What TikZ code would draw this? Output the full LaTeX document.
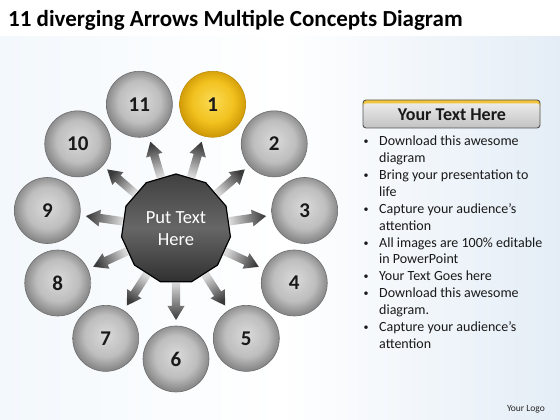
\documentclass[tikz,border=0pt]{standalone}
\usepackage{fontspec}
\setmainfont{Carlito}
\usetikzlibrary{shapes.geometric,calc}
\definecolor{bgL}{HTML}{F3F8FC}
\definecolor{bgR}{HTML}{E4EDF6}
\definecolor{arrD}{HTML}{3A3A3A}
\definecolor{arrL}{HTML}{D8D8D8}
\definecolor{gbA}{HTML}{DADADA}
\definecolor{gbB}{HTML}{BEBEBE}
\definecolor{gbC}{HTML}{8A8A8A}
\definecolor{ybA}{HTML}{FBDB55}
\definecolor{ybB}{HTML}{F1C11E}
\definecolor{ybC}{HTML}{D29C08}
\definecolor{hubT}{HTML}{404040}
\definecolor{hubM}{HTML}{666666}
\definecolor{hubB}{HTML}{303030}
\definecolor{boxT}{HTML}{EAEAEA}
\definecolor{boxB}{HTML}{C2C2C2}
\definecolor{boxY}{HTML}{F2C43A}
\definecolor{boxE}{HTML}{555555}
\pgfdeclareradialshading{grayball}{\pgfpoint{0bp}{3bp}}{color(0bp)=(gbA); color(16bp)=(gbB); color(25bp)=(gbC); color(50bp)=(gbC)}
\pgfdeclareradialshading{yellowball}{\pgfpoint{0bp}{3bp}}{color(0bp)=(ybA); color(16bp)=(ybB); color(25bp)=(ybC); color(50bp)=(ybC)}
\tikzset{
  ballnode/.style={circle, minimum size=66pt, inner sep=0pt, outer sep=0pt,
    font=\fontsize{21}{24}\selectfont\bfseries, text=black!90},
  grayballnode/.style={ballnode, shading=grayball, draw=gray!85!black, line width=0.6pt},
  yellowballnode/.style={ballnode, shading=yellowball, draw=ybC!90!black, line width=0.6pt},
  hubnode/.style={regular polygon, regular polygon sides=11, minimum size=110pt,
    inner sep=0pt, outer sep=0pt, draw=black, line width=1.2pt,
    top color=hubT, bottom color=hubB, middle color=hubM, text=white, align=center,
    font=\fontsize{18.5}{22}\selectfont},
  listline/.style={anchor=base west, inner sep=0pt, font=\fontsize{14}{17}\selectfont, text=black!90},
  bulletmark/.style={anchor=base west, inner sep=0pt, font=\fontsize{10}{12}\selectfont, text=black!90},
}
\begin{document}
\begin{tikzpicture}[x=1pt,y=1pt]
\useasboundingbox (0,0) rectangle (560,420);
\fill[white] (0,0) rectangle (560,420);
\shade[left color=bgL, right color=bgR, middle color=white] (0,0) rectangle (560,383);

\node[anchor=base west, inner sep=0pt, font=\fontsize{23}{26}\selectfont\bfseries] (title) at (8,393) {11 diverging Arrows Multiple Concepts Diagram};

\coordinate (C) at (176,191);

% arrows
\foreach \k in {1,...,11} {
  \pgfmathsetmacro\a{73.64-(\k-1)*32.7273}
  \pgfmathsetmacro\sa{\a-90}
  \shade[top color=arrD, bottom color=arrL, shading angle=\sa]
    ($(C)+(\a:54)+(\a+90:4.2)$) -- ($(C)+(\a:77)+(\a+90:4.2)$) --
    ($(C)+(\a:77)+(\a+90:8.5)$) -- ($(C)+(\a:91)$) --
    ($(C)+(\a:77)+(\a-90:8.5)$) -- ($(C)+(\a:77)+(\a-90:4.2)$) --
    ($(C)+(\a:54)+(\a-90:4.2)$) -- cycle;
}

% hub
\node[hubnode] (hub) at (C) {Put Text\\Here};

% circles
\node[yellowballnode] (c1) at ($(C)+(73.64:130)$) {1};
\foreach \k in {2,...,11} {
  \pgfmathsetmacro\a{73.64-(\k-1)*32.7273}
  \node[grayballnode] (c\k) at ($(C)+(\a:130)$) {\k};
}

% header box
\fill[boxY, rounded corners=3pt] (363,292) rectangle (540,320);
\shade[top color=boxT, bottom color=boxB, rounded corners=3pt] (363,292) rectangle (540,316.5);
\draw[boxE, line width=0.9pt, rounded corners=3pt] (363,292) rectangle (540,320);
\node[font=\fontsize{18}{21}\selectfont\bfseries, text=black!90] (hdr) at (452,305) {Your Text Here};

% list
\foreach \txt [count=\i] in {Download this awesome, diagram, Bring your presentation to, life, {Capture your audience’s}, attention, {All images are 100\% editable}, in PowerPoint, Your Text Goes here, Download this awesome, diagram., {Capture your audience’s}, attention} {
  \node[listline] (t\i) at (379,{274.3-(\i-1)*16.9}) {\txt};
}
\foreach \i in {1,3,5,7,9,10,12} {
  \node[bulletmark] (b\i) at (363.5,{275.3-(\i-1)*16.9}) {\textbullet};
}

\node[anchor=base east, inner sep=0pt, font=\fontsize{9.5}{11}\selectfont, text=black!85] (logo) at (545,8) {Your Logo};
\end{tikzpicture}
\end{document}
